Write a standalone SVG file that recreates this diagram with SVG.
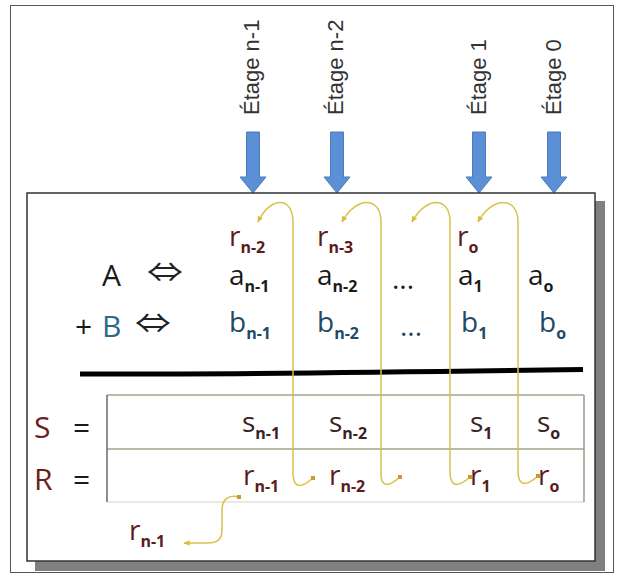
<svg xmlns="http://www.w3.org/2000/svg" width="617" height="575" viewBox="0 0 617 575">
<style>
.stage{font-family:"Liberation Sans",Arial,sans-serif;font-size:22px;fill:#333}
.v{font-family:"Open Sans","Liberation Sans",sans-serif;font-size:28px}
.sub{font-family:"Open Sans","Liberation Sans",sans-serif;font-size:16px;font-weight:bold}
.big{font-family:"Open Sans","Liberation Sans",sans-serif;font-size:30px}
.eq{font-family:"Noto Sans CJK JP","DejaVu Sans",sans-serif;font-size:32px;fill:#222}
.cr{fill:#5a1c1c}
.ca{fill:#1a1a1a}
.cb{fill:#1f4a66}
.cs{fill:#3a2222}
.curve{fill:none;stroke:#d8c24a;stroke-width:1.5}
.blue{fill:#5b8fd6;stroke:#4a7bc0;stroke-width:1}
</style>
<defs>
<marker id="ah" viewBox="0 0 10 10" refX="8" refY="5" markerWidth="7" markerHeight="7" orient="auto-start-reverse" markerUnits="userSpaceOnUse">
<path d="M0,1 L9,5 L0,9 Z" fill="#d6be3c"/>
</marker>
<marker id="dot" viewBox="0 0 10 10" refX="5" refY="5" markerWidth="5" markerHeight="5" markerUnits="userSpaceOnUse">
<rect x="1" y="1" width="8" height="8" fill="#c99a32"/>
</marker>
</defs>
<rect x="0" y="0" width="617" height="575" fill="#fff"/>
<rect id="frame" x="10.5" y="5.5" width="603" height="567" fill="#fff" stroke="#555" stroke-width="1"/>
<g id="stages">
<g id="stage-n1">
<text class="stage" transform="translate(259,115) rotate(-90)">Étage n-1</text>
<path class="blue" d="M246.5,132 H259.5 V177 H266 L253,193 L240,177 H246.5 Z"/>
</g>
<g id="stage-n2">
<text class="stage" transform="translate(343,115) rotate(-90)">Étage n-2</text>
<path class="blue" d="M330.5,132 H343.5 V177 H350 L337,193 L324,177 H330.5 Z"/>
</g>
<g id="stage-1">
<text class="stage" transform="translate(486,115) rotate(-90)">Étage 1</text>
<path class="blue" d="M472.5,132 H485.5 V177 H492 L479,193 L466,177 H472.5 Z"/>
</g>
<g id="stage-0">
<text class="stage" transform="translate(561,115) rotate(-90)">Étage 0</text>
<path class="blue" d="M547.5,132 H560.5 V177 H567 L554,193 L541,177 H547.5 Z"/>
</g>
</g>
<g id="panel">
<rect x="35" y="201" width="570" height="370" fill="#808080"/>
<rect x="27" y="193" width="568" height="368" fill="#fff" stroke="#333" stroke-width="1.5"/>
</g>
<g id="operands">
<text class="big ca" x="102" y="286">A</text>
<text class="eq" transform="translate(147,282) scale(1.12,0.85)">⇔</text>
<text class="big ca" x="75" y="337">+</text>
<text class="big" x="102" y="337" fill="#2b6a8a">B</text>
<text class="eq" transform="translate(135,333) scale(1.12,0.85)">⇔</text>
</g>
<g id="col-n1">
<text class="v cr" x="229" y="246">r<tspan class="sub" dy="7">n-2</tspan></text>
<text class="v ca" x="229" y="285">a<tspan class="sub" dy="7">n-1</tspan></text>
<text class="v cb" x="229" y="332">b<tspan class="sub" dy="7">n-1</tspan></text>
</g>
<g id="col-n2">
<text class="v cr" x="317" y="246">r<tspan class="sub" dy="7">n-3</tspan></text>
<text class="v ca" x="317" y="285">a<tspan class="sub" dy="7">n-2</tspan></text>
<text class="v cb" x="317" y="332">b<tspan class="sub" dy="7">n-2</tspan></text>
</g>
<g id="col-dots">
<text class="v ca" x="392" y="289">...</text>
<text class="v cb" x="400" y="336">...</text>
</g>
<g id="col-1">
<text class="v cr" x="457" y="246">r<tspan class="sub" dy="7">o</tspan></text>
<text class="v ca" x="458" y="285">a<tspan class="sub" dy="7">1</tspan></text>
<text class="v cb" x="461" y="332">b<tspan class="sub" dy="7">1</tspan></text>
</g>
<g id="col-0">
<text class="v ca" x="528" y="285">a<tspan class="sub" dy="7">o</tspan></text>
<text class="v cb" x="539" y="332">b<tspan class="sub" dy="7">o</tspan></text>
</g>
<path id="sum-line" d="M80,374 C250,374.5 420,372 583,369.5" fill="none" stroke="#000" stroke-width="5"/>
<g id="result-table">
<line x1="107" y1="395" x2="584" y2="395" stroke="#a5a58c" stroke-width="1.5"/>
<line x1="107" y1="449" x2="584" y2="449" stroke="#a5a58c" stroke-width="1.5"/>
<line x1="107" y1="502" x2="584" y2="502" stroke="#e2e2d6" stroke-width="1.5"/>
<line x1="107" y1="395" x2="107" y2="502" stroke="#6a6a60" stroke-width="1.5"/>
<line x1="584" y1="395" x2="584" y2="502" stroke="#9a9a90" stroke-width="1.5"/>
<text class="big" x="34" y="438" fill="#6b2020">S</text>
<text class="big ca" x="73" y="438">=</text>
<text class="big" x="34" y="490" fill="#6b2020">R</text>
<text class="big ca" x="73" y="490">=</text>
<text class="v cs" x="242" y="432">s<tspan class="sub" dy="7">n-1</tspan></text>
<text class="v cs" x="329" y="432">s<tspan class="sub" dy="7">n-2</tspan></text>
<text class="v cs" x="470" y="432">s<tspan class="sub" dy="7">1</tspan></text>
<text class="v cs" x="537" y="432">s<tspan class="sub" dy="7">o</tspan></text>
<text class="v cr" x="243" y="485">r<tspan class="sub" dy="7">n-1</tspan></text>
<text class="v cr" x="329" y="485">r<tspan class="sub" dy="7">n-2</tspan></text>
<text class="v cr" x="470" y="485">r<tspan class="sub" dy="7">1</tspan></text>
<text class="v cr" x="538" y="485">r<tspan class="sub" dy="7">o</tspan></text>
</g>
<text id="carry-out" class="v cr" x="129" y="540">r<tspan class="sub" dy="7">n-1</tspan></text>
<g id="connectors">
<path class="curve" marker-start="url(#dot)" marker-end="url(#ah)" d="M313,478 C305,485 294,492 293,474 L293,222 C293,196 270,196 258,222"/>
<path class="curve" marker-start="url(#dot)" marker-end="url(#ah)" d="M400,477 C392,484 381,491 381,473 L381,222 C381,196 356,196 342,222"/>
<path class="curve" marker-start="url(#dot)" marker-end="url(#ah)" d="M470,477 C462,484 451,491 450,473 L450,222 C450,196 426,196 412,222"/>
<path class="curve" marker-start="url(#dot)" marker-end="url(#ah)" d="M538,476 C530,483 519,490 518,472 L518,222 C518,196 492,196 478,222"/>
<path class="curve" marker-start="url(#dot)" marker-end="url(#ah)" d="M239,497 C228,494 222,500 222,510 L222,530 C222,541 216,543 206,543 L184,543"/>
</g>
</svg>
